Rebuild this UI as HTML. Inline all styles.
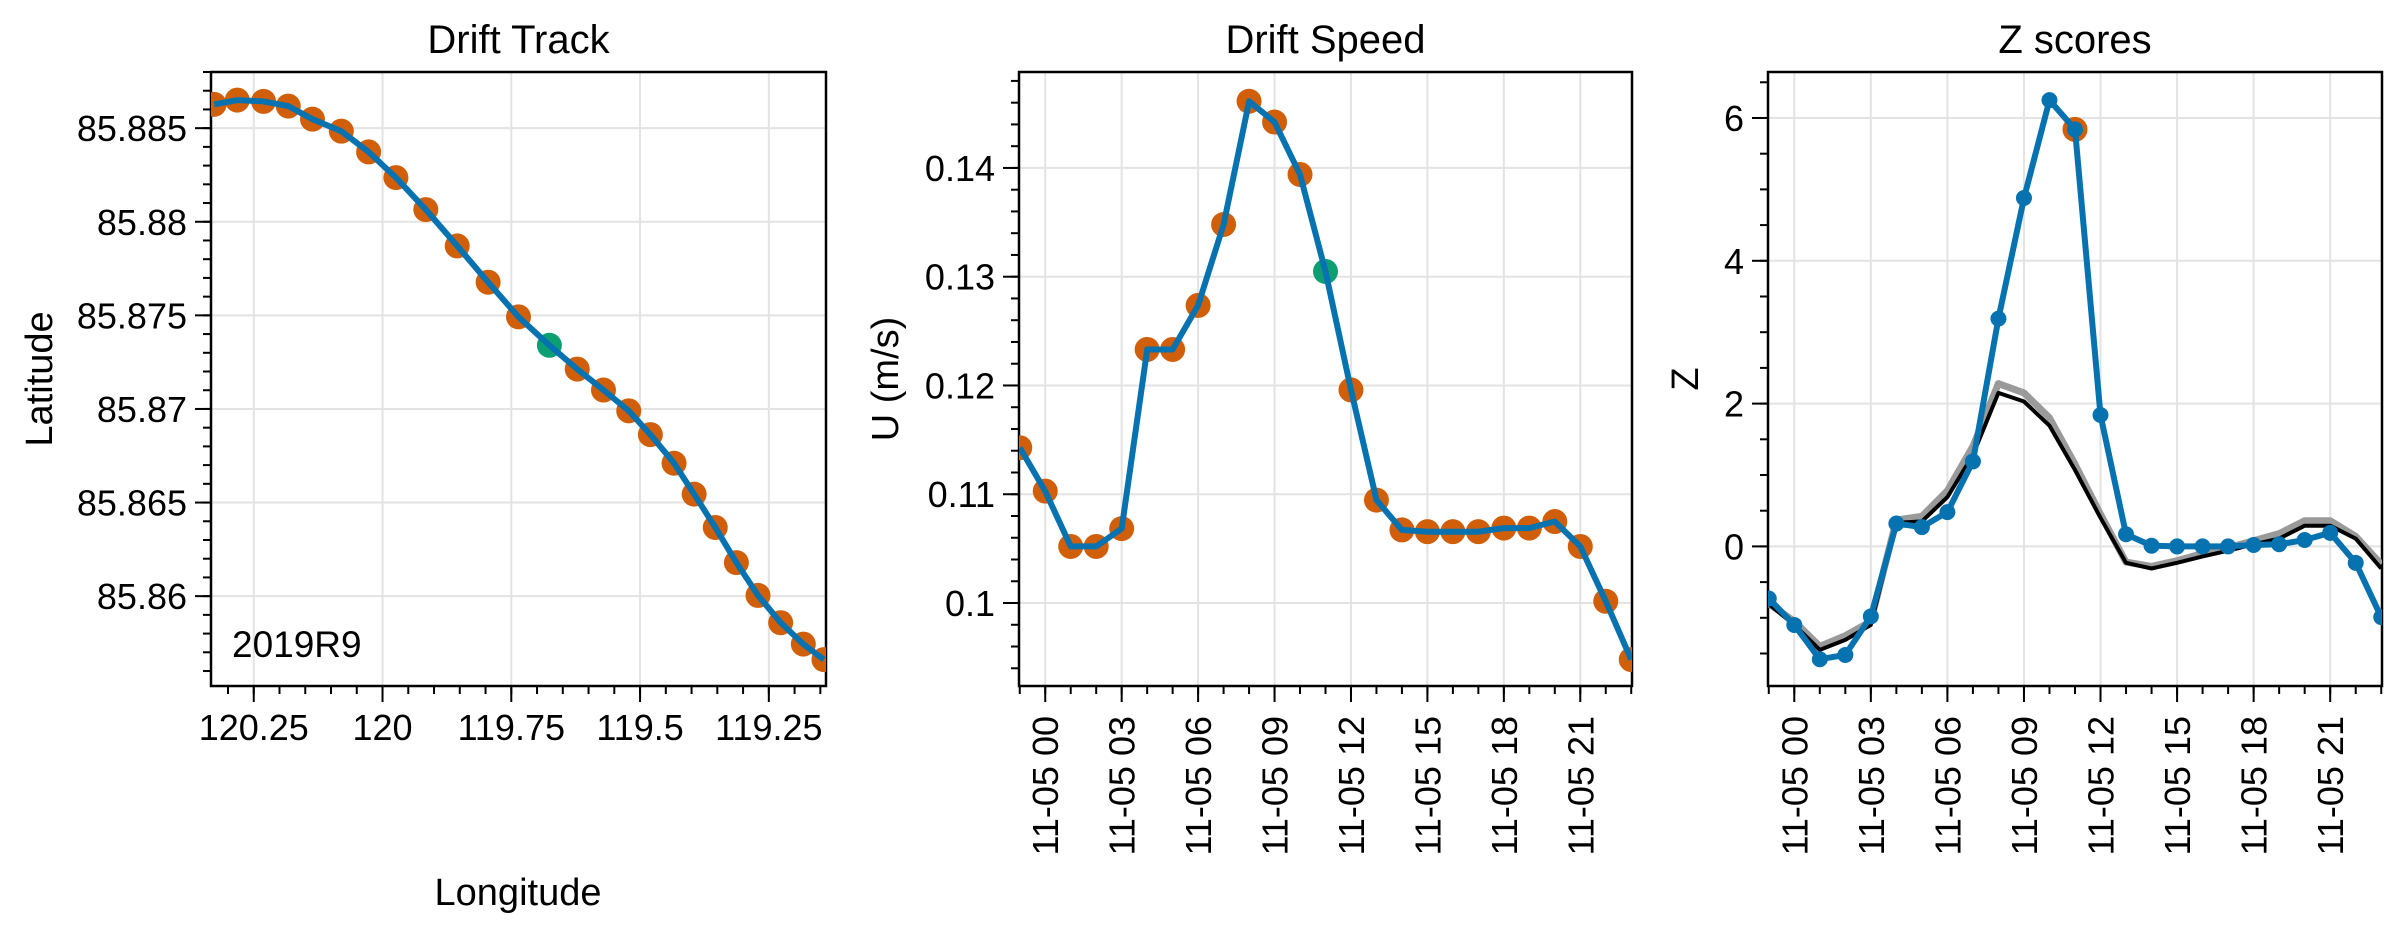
<!DOCTYPE html>
<html><head><meta charset="utf-8"><style>
html,body{margin:0;padding:0;background:#fff;}
svg{display:block;font-family:"Liberation Sans",sans-serif;}
</style></head><body>
<svg id="fig" width="2400" height="930" viewBox="0 0 2400 930" xmlns="http://www.w3.org/2000/svg">
<defs>
<clipPath id="c1"><rect x="211" y="72" width="615" height="614"/></clipPath>
<clipPath id="c2"><rect x="1019" y="72" width="613" height="614"/></clipPath>
<clipPath id="c3"><rect x="1768" y="72" width="614" height="614"/></clipPath>
</defs>
</svg>
<script>
// ---- Drift track data ----
const trackLon = [120.327,120.282,120.231,120.183,120.136,120.080,120.027,119.974,119.916,119.855,119.795,119.736,119.676,119.622,119.571,119.522,119.480,119.434,119.395,119.354,119.313,119.271,119.227,119.183,119.143];
const trackLat = [85.88627,85.8865,85.88643,85.88618,85.88548,85.88484,85.88373,85.88236,85.88065,85.87871,85.87677,85.87492,85.8734,85.87213,85.87101,85.8699,85.86863,85.8671,85.86545,85.86367,85.86179,85.86004,85.85858,85.85744,85.85661];
const highlightIndex = 12;
const lonTicks = [120.25,120,119.75,119.5,119.25];
const lonTickLabels = ["120.25","120","119.75","119.5","119.25"];
const latTicks = [85.86,85.865,85.87,85.875,85.88,85.885];
const latTickLabels = ["85.86","85.865","85.87","85.875","85.88","85.885"];
// ---- Drift speed data ----
const hours = [-1,0,1,2,3,4,5,6,7,8,9,10,11,12,13,14,15,16,17,18,19,20,21,22,23];
const speed = [0.11428,0.11029,0.1052,0.1052,0.10684,0.12331,0.12331,0.12736,0.1348,0.14613,0.14422,0.1394,0.13048,0.11959,0.10946,0.10672,0.10656,0.10656,0.10656,0.10689,0.10689,0.10749,0.1052,0.10016,0.0948];
const speedTicks = [0.1,0.11,0.12,0.13,0.14];
const speedTickLabels = ["0.1","0.11","0.12","0.13","0.14"];
const timeTicks = [0,3,6,9,12,15,18,21];
const timeTickLabels = ["11-05 00","11-05 03","11-05 06","11-05 09","11-05 12","11-05 15","11-05 18","11-05 21"];
// ---- Z scores ----
const zBlue = [-0.73,-1.10,-1.58,-1.52,-0.98,0.32,0.27,0.48,1.19,3.19,4.88,6.25,5.84,1.84,0.17,0.01,0.0,0.0,0.0,0.02,0.03,0.09,0.19,-0.23,-0.99];
const zBlack = [-0.81,-1.1,-1.45,-1.31,-1.1,0.33,0.35,0.69,1.28,2.15,2.03,1.69,1.07,0.40,-0.23,-0.31,-0.23,-0.14,-0.06,0.03,0.11,0.29,0.29,0.11,-0.31];
const zGrey = [-0.8,-1.05,-1.4,-1.25,-1.05,0.37,0.42,0.78,1.4,2.28,2.15,1.8,1.15,0.45,-0.22,-0.28,-0.2,-0.1,-0.02,0.08,0.18,0.36,0.36,0.14,-0.25];
const zFlagIndex = 12;
const zTicks = [0,2,4,6];
const zTickLabels = ["0","2","4","6"];

const NS="http://www.w3.org/2000/svg";
const svg=document.getElementById('fig');
const BLUE="#0772b0",ORANGE="#d15f0a",GREEN="#0e9e74";
const TF=36;
function mk(tag,attrs,parent){const e=document.createElementNS(NS,tag);for(const k in attrs)e.setAttribute(k,attrs[k]);(parent||svg).appendChild(e);return e;}
function lin(d0,d1,r0,r1){return v=>r0+(v-d0)/(d1-d0)*(r1-r0);}

function axes(o){
  const g=mk('g',{});
  
  
  const {L,R,T,B}=o;
  o.xt.forEach(v=>{const x=o.sx(v);const l=mk('line',{x1:x,x2:x,y1:T,y2:B,stroke:'#e3e3e3','stroke-width':2},g);});
  o.yt.forEach(v=>{const y=o.sy(v);const l=mk('line',{x1:L,x2:R,y1:y,y2:y,stroke:'#e3e3e3','stroke-width':2},g);});
  o.xminor.forEach(v=>{const x=o.sx(v);if(x<L-0.5||x>R+0.5)return;mk('line',{x1:x,x2:x,y1:B,y2:B+8,stroke:'#000','stroke-width':2},g);});
  o.yminor.forEach(v=>{const y=o.sy(v);if(y<T-0.5||y>B+0.5)return;mk('line',{x1:L,x2:L-8,y1:y,y2:y,stroke:'#000','stroke-width':2},g);});
  o.xt.forEach((v,i)=>{const x=o.sx(v);mk('line',{x1:x,x2:x,y1:B,y2:B+16,stroke:'#000','stroke-width':2},g);
    let t;
    if(o.rot){t=mk('text',{x:0,y:0,transform:`translate(${x+13},${B+30}) rotate(-90)`,'text-anchor':'end','font-size':TF},g);}
    else{t=mk('text',{x:x,y:B+54,'text-anchor':'middle','font-size':TF},g);}
    t.textContent=o.xl[i];});
  o.yt.forEach((v,i)=>{const y=o.sy(v);mk('line',{x1:L,x2:L-16,y1:y,y2:y,stroke:'#000','stroke-width':2},g);
    const t=mk('text',{x:L-24,y:y+13,'text-anchor':'end','font-size':TF},g);t.textContent=o.yl[i];
    });
  const f=mk('rect',{x:L,y:T,width:R-L,height:B-T,fill:'none',stroke:'#000','stroke-width':2.5},g);
  
  const tt=mk('text',{x:(L+R)/2,y:53,'text-anchor':'middle','font-size':40},g);tt.textContent=o.title;
  
  const yl=mk('text',{x:0,y:0,transform:`translate(${o.ylx},${(T+B)/2}) rotate(-90)`,'text-anchor':'middle','font-size':38},g);yl.textContent=o.ylabel;
  
  return g;
}
function range(a,b,s){const r=[];for(let v=a;v<=b+1e-9;v+=s)r.push(+v.toFixed(6));return r;}
function pathOf(xs,ys){return xs.map((x,i)=>(i?'L':'M')+x.toFixed(1)+','+ys[i].toFixed(1)).join('');}

// Panel 1
{
 const L=211,R=826,T=72,B=686;
 const sx=lin(120.333,119.139,L,R), sy=lin(85.8552,85.888,B,T);
 axes({name:'drift-track-axes',L,R,T,B,sx,sy,xt:lonTicks,xl:lonTickLabels,yt:latTicks,yl:latTickLabels,
   xminor:range(119.1,120.35,0.05),yminor:range(85.855,85.888,0.001),title:'Drift Track',ylabel:'Latitude',ylx:52});
 const g=mk('g',{'clip-path':'url(#c1)'});
 
 trackLon.forEach((v,i)=>{if(i===highlightIndex)return;const c=mk('circle',{cx:sx(v),cy:sy(trackLat[i]),r:12.5,fill:ORANGE},g);
   });
 const hc=mk('circle',{cx:sx(trackLon[highlightIndex]),cy:sy(trackLat[highlightIndex]),r:12.5,fill:GREEN},g);
 
 const p=mk('path',{d:pathOf(trackLon.map(sx),trackLat.map(sy)),fill:'none',stroke:BLUE,'stroke-width':6,'stroke-linejoin':'round'},g);
 
 const lb=mk('text',{x:232,y:657,'font-size':37});lb.textContent='2019R9';
 
 const xl=mk('text',{x:518,y:905,'text-anchor':'middle','font-size':38});xl.textContent='Longitude';
 
}
// Panel 2
{
 const L=1019,R=1632,T=72,B=686;
 const sx=lin(-1.03,23.03,L,R), sy=lin(0.09237,0.14882,B,T);
 axes({name:'drift-speed-axes',L,R,T,B,sx,sy,xt:timeTicks,xl:timeTickLabels,yt:speedTicks,yl:speedTickLabels,rot:true,
   xminor:range(-1,23,1),yminor:range(0.092,0.148,0.002),title:'Drift Speed',ylabel:'U (m/s)',ylx:898});
 const g=mk('g',{'clip-path':'url(#c2)'});
 
 hours.forEach((h,i)=>{const c=mk('circle',{cx:sx(h),cy:sy(speed[i]),r:12.5,fill:i===highlightIndex?GREEN:ORANGE},g);
   });
 const p=mk('path',{d:pathOf(hours.map(sx),speed.map(sy)),fill:'none',stroke:BLUE,'stroke-width':6,'stroke-linejoin':'round'},g);
 
}
// Panel 3
{
 const L=1768,R=2382,T=72,B=686;
 const sx=lin(-1.03,23.03,L,R), sy=lin(-1.955,6.644,B,T);
 axes({name:'z-scores-axes',L,R,T,B,sx,sy,xt:timeTicks,xl:timeTickLabels,yt:zTicks,yl:zTickLabels,rot:true,
   xminor:range(-1,23,1),yminor:range(-1.5,6.5,0.5),title:'Z scores',ylabel:'Z',ylx:1698});
 const g=mk('g',{'clip-path':'url(#c3)'});
 
 const pg=mk('path',{d:pathOf(hours.map(sx),zGrey.map(sy)),fill:'none',stroke:'#9a9a9a','stroke-width':7,'stroke-linejoin':'round'},g);
 
 const pk=mk('path',{d:pathOf(hours.map(sx),zBlack.map(sy)),fill:'none',stroke:'#000','stroke-width':4,'stroke-linejoin':'round'},g);
 
 const fc=mk('circle',{cx:sx(hours[zFlagIndex]),cy:sy(zBlue[zFlagIndex]),r:12.5,fill:ORANGE},g);
 
 const pb=mk('path',{d:pathOf(hours.map(sx),zBlue.map(sy)),fill:'none',stroke:BLUE,'stroke-width':6,'stroke-linejoin':'round'},g);
 
 hours.forEach((h,i)=>{const c=mk('circle',{cx:sx(h),cy:sy(zBlue[i]),r:8,fill:BLUE},g);
   });
}
</script>
</body></html>
